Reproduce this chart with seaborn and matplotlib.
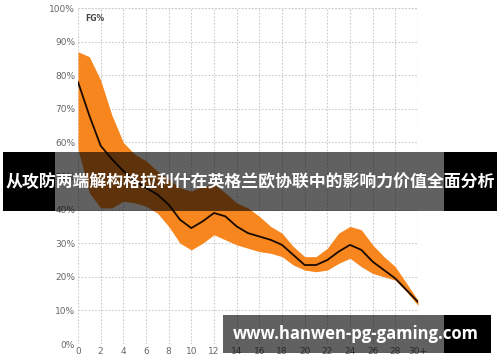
import matplotlib
matplotlib.use("Agg")
import matplotlib.pyplot as plt
from matplotlib.patches import Rectangle
import seaborn as sns
import pandas as pd
import numpy as np

distance = list(range(0, 31))
fg_mean = [78, 68, 59, 55, 51.5, 48.5, 46.5, 44.5, 41.5, 37, 34.5, 36.5, 39, 38, 35, 33,
           32, 31, 29.5, 26.5, 23.5, 23.5, 25, 27.5, 29.5, 28, 24.5, 22, 19.5, 16, 12.5]
fg_upper = [87, 85.5, 78.5, 68, 60, 56.5, 54.5, 51.5, 49, 46.5, 45.5, 47, 47.5, 45, 42, 40.5,
            38, 35, 33, 29, 26, 26, 28.5, 33, 35, 34, 29.5, 26, 23, 18, 13]
fg_lower = [58, 45, 40.5, 40.5, 42.5, 42, 41, 39, 35, 30, 28, 30, 32.5, 31, 29.5, 28.5,
            27.5, 27, 26, 23.5, 22, 21.5, 22, 24, 25.5, 23, 21, 20, 19, 15.5, 11.5]
x_ticks = list(range(0, 31, 2))
x_tick_labels = [str(v) for v in range(0, 30, 2)] + ["30+"]
y_ticks = list(range(0, 101, 10))
y_tick_labels = [f"{v}%" for v in y_ticks]

title_text = "从攻防两端解构格拉利什在英格兰欧协联中的影响力价值全面分析"
watermark = "www.hanwen-pg-gaming.com"

df = pd.DataFrame({"distance": distance, "mean": fg_mean,
                   "upper": fg_upper, "lower": fg_lower})

sns.set_style("white")
plt.rcParams["font.family"] = ["DejaVu Sans"]

W, H = 500, 362
fig = plt.figure(figsize=(W / 100, H / 100), dpi=100)
ax = fig.add_axes([78 / W, 1 - 344 / H, 340 / W, 336 / H])

orange = "#F7861F"
ax.fill_between(df["distance"], df["lower"], df["upper"], color=orange, linewidth=0, zorder=2)
sns.lineplot(data=df, x="distance", y="mean", color="#1a0a00", linewidth=1.3, ax=ax, zorder=3)

ax.set_xlim(0, 30)
ax.set_ylim(0, 100)
ax.set_xticks(x_ticks)
ax.set_xticklabels(x_tick_labels)
ax.set_yticks(y_ticks)
ax.set_yticklabels(y_tick_labels)
ax.tick_params(axis="both", length=0, labelsize=6.5, colors="#666666", pad=2)
ax.set_xlabel("")
ax.set_ylabel("")
for s in ax.spines.values():
    s.set_visible(False)
ax.grid(True, color="#cccccc", linestyle=(0, (1.5, 1.5)), linewidth=0.8, zorder=0)
ax.set_axisbelow(True)
ax.axvline(30, color="#cccccc", linestyle=(0, (1.5, 1.5)), linewidth=0.8, zorder=0)
ax.axhline(100, color="#cccccc", linestyle=(0, (1.5, 1.5)), linewidth=0.8, zorder=0)
ax.text(0.6, 97, "FG%", fontsize=5.5, fontweight="bold", color="#444444", va="center", ha="left")

def rect(x0, y0, x1, y1, color, alpha):
    fig.add_artist(Rectangle((x0 / W, 1 - y1 / H), (x1 - x0) / W, (y1 - y0) / H,
                             transform=fig.transFigure, facecolor=color, alpha=alpha,
                             edgecolor="none", zorder=10))

# title banner
rect(3, 152, 55, 211, "black", 1.0)
rect(55, 152, 444, 211, "black", 0.62)
rect(444, 152, 497, 211, "black", 1.0)
fig.text(250 / W, 1 - 182 / H, title_text, color="white", fontsize=12.2, fontweight="bold",
         family=["Noto Sans CJK SC", "DejaVu Sans"], ha="center", va="center", zorder=11)

# watermark banner
rect(223, 315, 444, 353, "black", 0.62)
rect(444, 315, 491, 353, "black", 1.0)
fig.text(356 / W, 1 - 334 / H, watermark, color="white", fontsize=12, fontweight="bold",
         family=["Open Sans", "DejaVu Sans"], ha="center", va="center", zorder=11)

fig.savefig("out.png", dpi=100)
